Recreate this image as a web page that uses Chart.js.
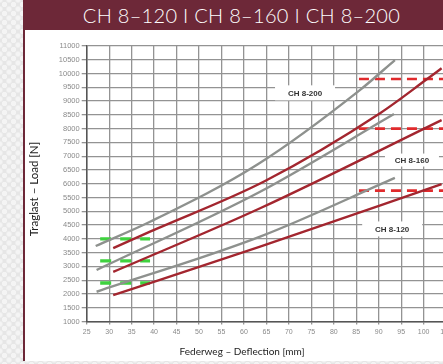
<!DOCTYPE html>
<html>
<head>
<meta charset="utf-8">
<script src="https://cdn.jsdelivr.net/npm/chart.js@4.4.1/dist/chart.umd.min.js"></script>
<style>
  html, body { margin: 0; padding: 0; }
  body {
    width: 443px; height: 364px; overflow: hidden; position: relative;
    background-color: #e6e6e6;
    background-image:
      radial-gradient(circle, #f4f4f4 2.4px, transparent 3px),
      radial-gradient(circle, #f4f4f4 2.4px, transparent 3px);
    background-size: 9px 9px;
    background-position: 0 0, 4.5px 4.5px;
  }
  #bar {
    position: absolute; left: 23px; top: 0; width: 420px; height: 30px;
    background: #6d2838; color: #ffffff;
    font-family: "Lato", "Open Sans", sans-serif; font-weight: 300;
    font-size: 20px; line-height: 31px; text-align: center;
    box-sizing: border-box; padding-left: 17px; letter-spacing: 0.3px;
    white-space: nowrap;
  }
  #panel {
    position: absolute; left: 23px; top: 30px; width: 420px; height: 331px;
    background: #ffffff; border-left: 2px solid #6d2838; box-sizing: border-box;
  }
  #wrap { position: absolute; left: 25px; top: 30px; width: 445px; height: 334px; }
  canvas { display: block; }
</style>
</head>
<body>
<div id="bar">CH 8–120 I CH 8–160 I CH 8–200</div>
<div id="panel"></div>
<div id="wrap"><canvas id="c" width="445" height="334"></canvas></div>
<script>
// Load curves, deflection [mm] vs load [N]
const ch200Upper = [[27, 3740], [39.1, 4620], [63, 6700], [85.8, 9400], [93.6, 10490]];
const ch200Nominal = [[30.9, 3660], [39.1, 4260], [64.7, 6100], [90.3, 8560], [100.7, 9790], [104, 10190]];
const ch160Upper = [[27.2, 2870], [63.6, 5710], [93.4, 8530]];
const ch160Nominal = [[30.9, 2800], [63.6, 5110], [104, 8310]];
const ch120Upper = [[27.2, 2080], [63.6, 4080], [93.6, 6210]];
const ch120Nominal = [[30.9, 1960], [63.6, 3715], [104, 5990]];

// Marker levels
const maxLoadLevels = [9800, 8000, 5750];      // red dashed, from 85.6 mm to the end
const preloadLevels = [4000, 3200, 2400];      // green dashed, 28–39 mm
const maxLoadRange = [85.6, 105];
const preloadRange = [28, 39.1];

// Axis ticks
const xTicks = [25, 30, 35, 40, 45, 50, 55, 60, 65, 70, 75, 80, 85, 90, 95, 100, 105];
const yTicks = [1000, 1500, 2000, 2500, 3000, 3500, 4000, 4500, 5000, 5500, 6000,
                6500, 7000, 7500, 8000, 8500, 9000, 9500, 10000, 10500, 11000];

// Curve labels
const curveLabels = [
  { text: 'CH 8-200', x: 73.6, y: 9300, w: 60, h: 15 },
  { text: 'CH 8-160', x: 97.4, y: 6860, w: 54, h: 13 },
  { text: 'CH 8-120', x: 93.0, y: 4360, w: 60, h: 15 }
];

const toPts = arr => arr.map(([x, y]) => ({ x, y }));
const GREY = '#8e918e', RED = '#a3262f';

const curve = (data, color) => ({
  data: toPts(data), borderColor: color, borderWidth: 2.4,
  pointRadius: 0, showLine: true, cubicInterpolationMode: 'monotone', fill: false
});
const level = (y, range, color, width, dash) => ({
  data: [{ x: range[0], y }, { x: range[1], y }], borderColor: color,
  borderWidth: width, borderDash: dash, pointRadius: 0, showLine: true, fill: false
});

const datasets = [
  curve(ch200Upper, GREY), curve(ch200Nominal, RED),
  curve(ch160Upper, GREY), curve(ch160Nominal, RED),
  curve(ch120Upper, GREY), curve(ch120Nominal, RED),
  ...maxLoadLevels.map(v => level(v, maxLoadRange, '#e02a2c', 2.6, [10, 6])),
  ...preloadLevels.map(v => level(v, preloadRange, '#3fd23f', 3.4, [11, 9]))
];

// Boxed curve labels and axis titles
const overlay = {
  id: 'overlay',
  afterDatasetsDraw(chart) {
    const { ctx, scales } = chart;
    ctx.save();
    ctx.font = 'bold 8px "Liberation Sans", Arial, sans-serif';
    ctx.textAlign = 'center';
    ctx.textBaseline = 'middle';
    curveLabels.forEach(l => {
      const px = scales.x.getPixelForValue(l.x);
      const py = scales.y.getPixelForValue(l.y);
      ctx.fillStyle = '#ffffff';
      ctx.fillRect(px - l.w / 2, py - l.h / 2, l.w, l.h);
      ctx.fillStyle = '#333333';
      ctx.fillText(l.text, px, py + 0.5);
    });
    ctx.restore();
  },
  afterDraw(chart) {
    const ctx = chart.ctx;
    ctx.save();
    ctx.fillStyle = '#222222';
    ctx.textAlign = 'center';
    ctx.textBaseline = 'middle';
    ctx.font = '10px "Lato", "Open Sans", sans-serif';
    ctx.fillText('Federweg – Deflection [mm]', 217, 322);
    ctx.translate(9, 159);
    ctx.rotate(-Math.PI / 2);
    ctx.font = '11.5px "Lato", "Open Sans", sans-serif';
    ctx.fillText('Traglast – Load [N]', 0, 0);
    ctx.restore();
  }
};

new Chart(document.getElementById('c'), {
  type: 'scatter',
  data: { datasets },
  plugins: [overlay],
  options: {
    responsive: false,
    animation: false,
    layout: { padding: { top: 16, right: 23.9, left: 0, bottom: 0 } },
    plugins: { legend: { display: false }, tooltip: { enabled: false } },
    scales: {
      x: {
        type: 'linear', min: 25, max: 105,
        afterBuildTicks: s => { s.ticks = xTicks.map(v => ({ value: v })); },
        afterFit: s => { s.height = 42.5; },
        ticks: { font: { size: 7, family: '"Liberation Sans", Arial, sans-serif' }, color: '#8a8a8a', padding: 3, maxRotation: 0, autoSkip: false,
                 callback: v => String(v) },
        grid: { color: '#939393', lineWidth: 1.3, tickLength: 3 },
        border: { color: '#555555', width: 1.5 }
      },
      y: {
        type: 'linear', min: 1000, max: 11000,
        afterBuildTicks: s => { s.ticks = yTicks.map(v => ({ value: v })); },
        afterFit: s => { s.width = 61.7; },
        ticks: { font: { size: 7.5, family: '"Liberation Sans", Arial, sans-serif' }, color: '#8a8a8a', padding: 2, autoSkip: false,
                 callback: v => String(v) },
        grid: { color: '#939393', lineWidth: 1.3, tickLength: 5 },
        border: { color: '#555555', width: 1.5 }
      }
    }
  }
});
</script>
</body>
</html>
